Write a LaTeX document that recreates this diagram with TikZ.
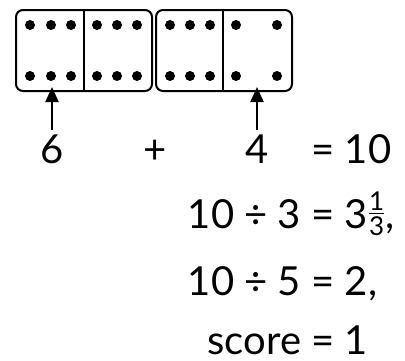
\documentclass[tikz,border=0pt]{standalone}
\usepackage{fontspec}
\setmainfont{Lato}
\usepackage{tikz}
\usetikzlibrary{
arrows.meta,
positioning
}
\newcommand{\dmfrac}[2]{\raisebox{-7pt}{\fontsize{26}{26}\selectfont
  \vbox{\hbox{#1}\kern2pt\hrule height1.6pt\kern2pt\hbox{#2}}}}
\tikzset{
dmbox/.style={draw=black, line width=2pt, rounded corners=7pt, inner sep=0pt,
  minimum width=136pt, minimum height=81pt},
dmline/.style={line width=2pt},
dmdot/.style={fill=black},
dmarrow/.style={-{Triangle[width=13pt, length=15pt]}, line width=2pt, shorten <=3pt},
dmtext/.style={anchor=base, font=\fontsize{40}{48}\selectfont, inner sep=1pt}
}

\begin{document}
\begin{tikzpicture}[x=1pt, y=-1pt]
\useasboundingbox (0,0) rectangle (405,360);
\node[dmbox] (domL) at (84,50.5) {};
\node[dmbox] (domR) at (224,50.5) {};
\draw[dmline] (domL.north) -- (domL.south);
\draw[dmline] ([xshift=-1pt]domR.north) -- ([xshift=-1pt]domR.south);
\foreach \x in {30,51,71,97,117,137,170,190,210,236,277}
  \foreach \y in {25,76}
    \fill[dmdot] (\x,\y) circle[radius=5];

\node[dmtext] (six) at (52,163) {6};
\node[dmtext] (plus) at (155,163) {+};
\node[dmtext] (four) at (257,163) {4};
\node[dmtext] (sum) at (323,163) {=\rlap{ 10}};
\node[dmtext] (divA) at (323,228) {\llap{10 ÷ 3 }=\rlap{ 3\kern1pt\dmfrac{1}{3}\kern1pt,}};
\node[dmtext] (divB) at (323,295) {\llap{10 ÷ 5 }=\rlap{ 2,}};
\node[dmtext] (score) at (323,354) {\llap{score }=\rlap{ 1}};

\coordinate (tipL) at (52,87);
\coordinate (tipR) at (257,87);
\draw[dmarrow] (six.north) -- (tipL);
\draw[dmarrow] (four.north) -- (tipR);
\end{tikzpicture}
\end{document}
